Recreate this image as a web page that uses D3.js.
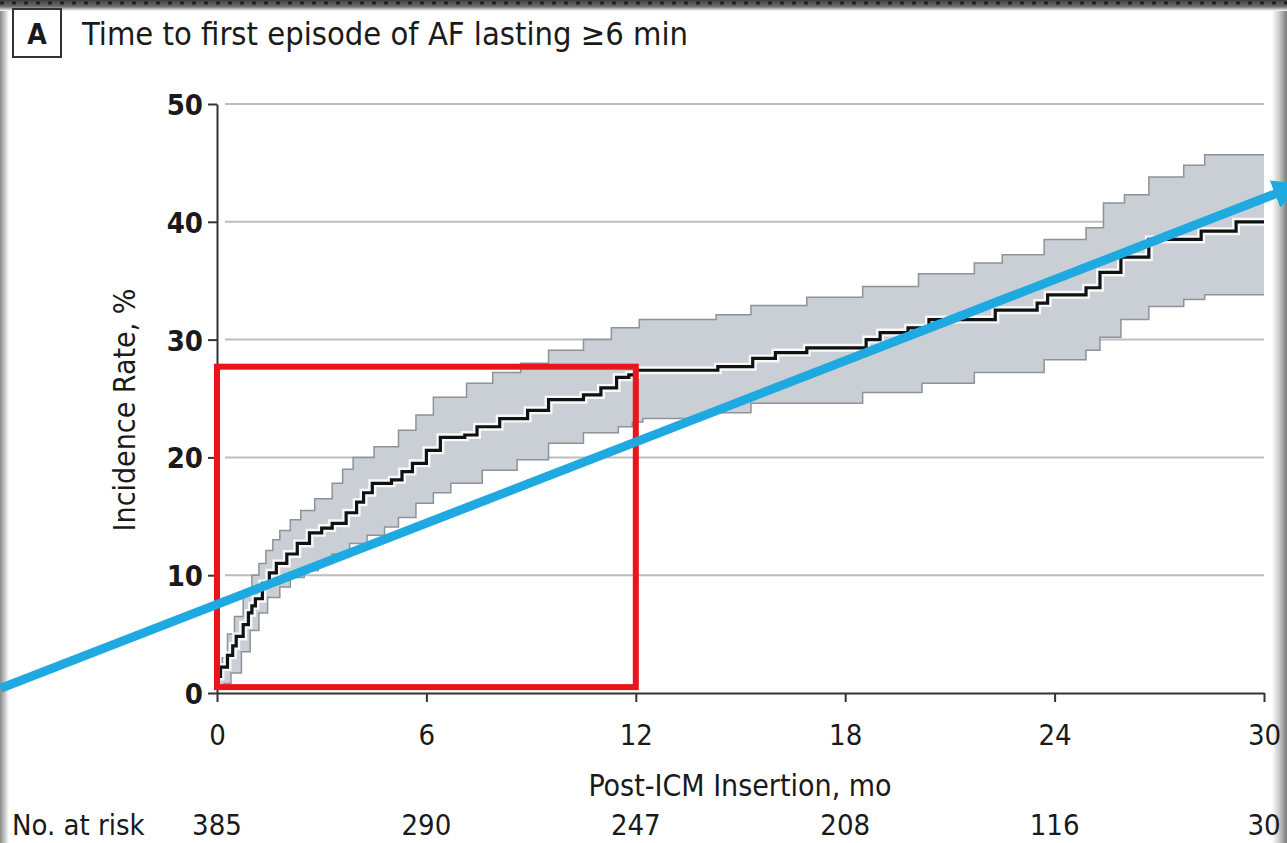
<!DOCTYPE html>
<meta charset="utf-8">
<head>
  <title>Time to first episode of AF</title>
</head>
<style>
body { margin: 0; background: #fff; }
svg { display: block; }
text { font-family: "Liberation Sans Narrow", "DejaVu Sans Condensed", "Open Sans", sans-serif; fill: #1a1a1a; }
.grid line { stroke: #bdbdbd; stroke-width: 2; }
.axis path, .axis line { stroke: #333; stroke-width: 2; fill: none; }
</style>
<body>
<svg width="1287" height="843"></svg>
<script src="https://cdnjs.cloudflare.com/ajax/libs/d3/7.8.5/d3.min.js"></script>
<script>
// Kaplan-Meier estimate (months, %)
var kmTime = [0, 0.1, 0.3, 0.45, 0.55, 0.75, 0.9, 1.0, 1.1, 1.3, 1.5, 1.7, 2.0, 2.3, 2.65, 3.0, 3.3, 3.7, 4.0, 4.2, 4.45, 5.0, 5.3, 5.6, 6.0, 6.4, 7.1, 7.45, 8.1, 8.9, 9.5, 10.5, 11.0, 11.45, 11.8, 12.0, 14.35, 15.35, 16.0, 16.9, 18.6, 19.0, 19.8, 20.4, 22.3, 23.5, 23.8, 24.9, 25.3, 25.9, 26.7, 28.2, 29.2, 30];
var kmRate = [1.4, 2.2, 3.2, 4.0, 4.8, 5.8, 6.8, 7.4, 8.0, 9.3, 10.2, 11.0, 11.8, 12.7, 13.6, 14.0, 14.4, 15.3, 16.2, 17.0, 17.8, 18.1, 18.8, 19.5, 20.6, 21.7, 21.9, 22.6, 23.3, 24.0, 24.9, 25.3, 25.9, 26.8, 27.0, 27.4, 27.7, 28.4, 28.9, 29.3, 30.0, 30.6, 31.0, 31.7, 32.5, 33.1, 33.8, 34.4, 35.7, 37.0, 38.5, 39.2, 40.0, 40.0];

// 95% confidence band
var upTime = [0, 0.15, 0.3, 0.5, 0.75, 1.0, 1.2, 1.4, 1.6, 1.8, 2.1, 2.4, 2.8, 3.3, 3.6, 3.9, 4.5, 5.2, 5.7, 6.2, 7.15, 7.9, 8.7, 9.5, 10.5, 11.3, 12.1, 14.3, 15.3, 16.9, 18.5, 20.1, 21.7, 22.5, 23.7, 24.9, 25.4, 26.0, 26.7, 27.7, 28.3, 30];
var upRate = [2.0, 3.0, 5.0, 6.5, 8.5, 10.0, 11.0, 12.1, 13.0, 13.8, 14.7, 15.5, 16.5, 17.8, 19.0, 20.0, 20.9, 22.3, 23.6, 25.1, 26.3, 27.2, 28.0, 29.1, 30.0, 31.0, 31.7, 32.1, 32.9, 33.6, 34.5, 35.6, 36.5, 37.2, 38.5, 39.5, 41.6, 42.3, 43.8, 44.8, 45.7, 45.7];
var loTime = [0, 0.2, 0.4, 0.7, 0.95, 1.2, 1.45, 1.8, 2.1, 2.5, 2.9, 3.3, 3.8, 4.3, 4.8, 5.2, 5.7, 6.2, 6.7, 7.6, 8.6, 9.5, 10.5, 11.5, 11.9, 12.2, 14.0, 15.3, 18.5, 20.2, 21.7, 23.7, 24.9, 25.3, 25.9, 26.7, 27.7, 28.3, 30];
var loRate = [0.5, 0.8, 1.7, 3.5, 5.3, 6.8, 8.1, 9.0, 9.8, 10.4, 11.0, 11.8, 12.7, 13.4, 14.1, 14.9, 16.1, 17.0, 17.8, 18.9, 19.8, 21.2, 22.1, 22.6, 23.0, 23.3, 23.8, 24.6, 25.5, 26.3, 27.2, 28.3, 29.1, 30.2, 31.7, 32.8, 33.4, 33.8, 33.8];

var xTicks = [0, 6, 12, 18, 24, 30];
var yTicks = [0, 10, 20, 30, 40, 50];
var atRisk = [385, 290, 247, 208, 116, 30];

// annotations drawn over the chart (data units)
var boxMonths = [0, 12], boxRates = [0.5, 27.7];
var arrowMonths = [-6.2, 30.7], arrowRates = [0.4, 42.8];

var svg = d3.select('svg');
var x = d3.scaleLinear().domain([0, 30]).range([217, 1264]);
var y = d3.scaleLinear().domain([0, 50]).range([693, 104]);

// frame of the scanned image
var defs = svg.append('defs');
var gl = defs.append('linearGradient').attr('id', 'gl');
gl.append('stop').attr('offset', '0').attr('stop-color', '#8a8a8a');
gl.append('stop').attr('offset', '1').attr('stop-color', '#fff');
var gr = defs.append('linearGradient').attr('id', 'gr');
gr.append('stop').attr('offset', '0').attr('stop-color', '#fff');
gr.append('stop').attr('offset', '0.5').attr('stop-color', '#c8c8c8');
gr.append('stop').attr('offset', '1').attr('stop-color', '#7a7a7a');
var gt = defs.append('linearGradient').attr('id', 'gt').attr('x2', 0).attr('y2', 1);
gt.append('stop').attr('offset', '0').attr('stop-color', '#3e3e3e');
gt.append('stop').attr('offset', '0.6').attr('stop-color', '#6e6e6e');
gt.append('stop').attr('offset', '1').attr('stop-color', '#fff');
svg.append('rect').attr('x', 0).attr('y', 0).attr('width', 9).attr('height', 843).attr('fill', 'url(#gl)');
svg.append('rect').attr('x', 1272).attr('y', 0).attr('width', 15).attr('height', 843).attr('fill', 'url(#gr)');
svg.append('rect').attr('x', 0).attr('y', 0).attr('width', 1287).attr('height', 11).attr('fill', 'url(#gt)');
svg.append('line').attr('x1', 0).attr('x2', 1287).attr('y1', 3).attr('y2', 3)
  .attr('stroke', '#222').attr('stroke-width', 3).attr('stroke-dasharray', '4 8');

// panel label and title
svg.append('rect').attr('x', 13).attr('y', 9).attr('width', 48).attr('height', 48)
  .attr('fill', '#fff').attr('stroke', '#333').attr('stroke-width', 2);
svg.append('text').attr('x', 37).attr('y', 44).attr('text-anchor', 'middle')
  .style('font-size', '28px').style('font-weight', 'bold').text('A');
svg.append('text').attr('x', 82).attr('y', 45).attr('textLength', 606).attr('lengthAdjust', 'spacingAndGlyphs')
  .style('font-size', '32px').style('font-weight', 500).text('Time to first episode of AF lasting \u22656 min');

// grid
svg.append('g').attr('class', 'grid')
  .selectAll('line').data(yTicks.slice(1)).enter().append('line')
  .attr('x1', 225).attr('x2', x(30))
  .attr('y1', function(d){ return y(d); }).attr('y2', function(d){ return y(d); });

// confidence band on a shared time grid
function stepAt(ts, vs, t) {
  var i = d3.bisectRight(ts, t) - 1;
  return vs[Math.max(0, i)];
}
var allT = Array.from(new Set(upTime.concat(loTime))).sort(d3.ascending);
var band = allT.map(function(t){ return {t: t, hi: stepAt(upTime, upRate, t), lo: stepAt(loTime, loRate, t)}; });

svg.append('path').datum(band)
  .attr('fill', '#c9cfd4')
  .attr('d', d3.area().curve(d3.curveStepAfter)
    .x(function(d){ return x(d.t); })
    .y0(function(d){ return y(d.lo); })
    .y1(function(d){ return y(d.hi); }));

var edge = d3.line().curve(d3.curveStepAfter)
  .x(function(d){ return x(d[0]); }).y(function(d){ return y(d[1]); });
svg.append('path').datum(d3.zip(upTime, upRate)).attr('d', edge)
  .attr('fill', 'none').attr('stroke', '#8d9398').attr('stroke-width', 1.5);
svg.append('path').datum(d3.zip(loTime, loRate)).attr('d', edge)
  .attr('fill', 'none').attr('stroke', '#8d9398').attr('stroke-width', 1.5);

// KM line with white halo
var km = d3.zip(kmTime, kmRate);
svg.append('path').datum(km).attr('d', edge)
  .attr('fill', 'none').attr('stroke', '#fff').attr('stroke-width', 8).attr('stroke-opacity', 0.85);
svg.append('path').datum(km).attr('d', edge)
  .attr('fill', 'none').attr('stroke', '#111').attr('stroke-width', 3.2);

// axes
var yAxis = svg.append('g').attr('class', 'axis').attr('transform', 'translate(217,0)')
  .call(d3.axisLeft(y).tickValues(yTicks).tickSize(9).tickSizeOuter(0).tickPadding(5));
yAxis.selectAll('text').style('font-size', '29px').style('font-weight', 'bold').attr('dy', '0.36em');
var xAxis = svg.append('g').attr('class', 'axis').attr('transform', 'translate(0,693)')
  .call(d3.axisBottom(x).tickValues(xTicks).tickSize(9).tickSizeOuter(0).tickPadding(22));
xAxis.selectAll('text').style('font-size', '29px');
svg.selectAll('.axis text').style('font-family', null).attr('fill', '#1a1a1a');

svg.append('text').attr('transform', 'translate(135,410) rotate(-90)').attr('text-anchor', 'middle')
  .style('font-size', '30px').text('Incidence Rate, %');
svg.append('text').attr('x', 740).attr('y', 796).attr('text-anchor', 'middle')
  .style('font-size', '30px').text('Post-ICM Insertion, mo');

// number at risk
svg.append('text').attr('x', 12).attr('y', 835).style('font-size', '29px').text('No. at risk');
svg.append('g').selectAll('text').data(atRisk).enter().append('text')
  .attr('x', function(d, i){ return x(xTicks[i]); }).attr('y', 835)
  .attr('text-anchor', 'middle').style('font-size', '29px')
  .text(function(d){ return d; });

// red highlight box
svg.append('rect')
  .attr('x', x(boxMonths[0])).attr('y', y(boxRates[1]))
  .attr('width', x(boxMonths[1]) - x(boxMonths[0]))
  .attr('height', y(boxRates[0]) - y(boxRates[1]))
  .attr('fill', 'none').attr('stroke', '#e8151c').attr('stroke-width', 6);

// blue trend arrow
defs.append('marker').attr('id', 'ah').attr('viewBox', '0 0 10 10').attr('refX', 5).attr('refY', 5)
  .attr('markerWidth', 3.2).attr('markerHeight', 3.2).attr('orient', 'auto')
  .append('path').attr('d', 'M0,0 L10,5 L0,10 z').attr('fill', '#1ea9e1');
svg.append('line')
  .attr('x1', x(arrowMonths[0])).attr('y1', y(arrowRates[0]))
  .attr('x2', x(arrowMonths[1])).attr('y2', y(arrowRates[1]))
  .attr('stroke', '#1ea9e1').attr('stroke-width', 9).attr('marker-end', 'url(#ah)');
</script>
</body>
</html>
